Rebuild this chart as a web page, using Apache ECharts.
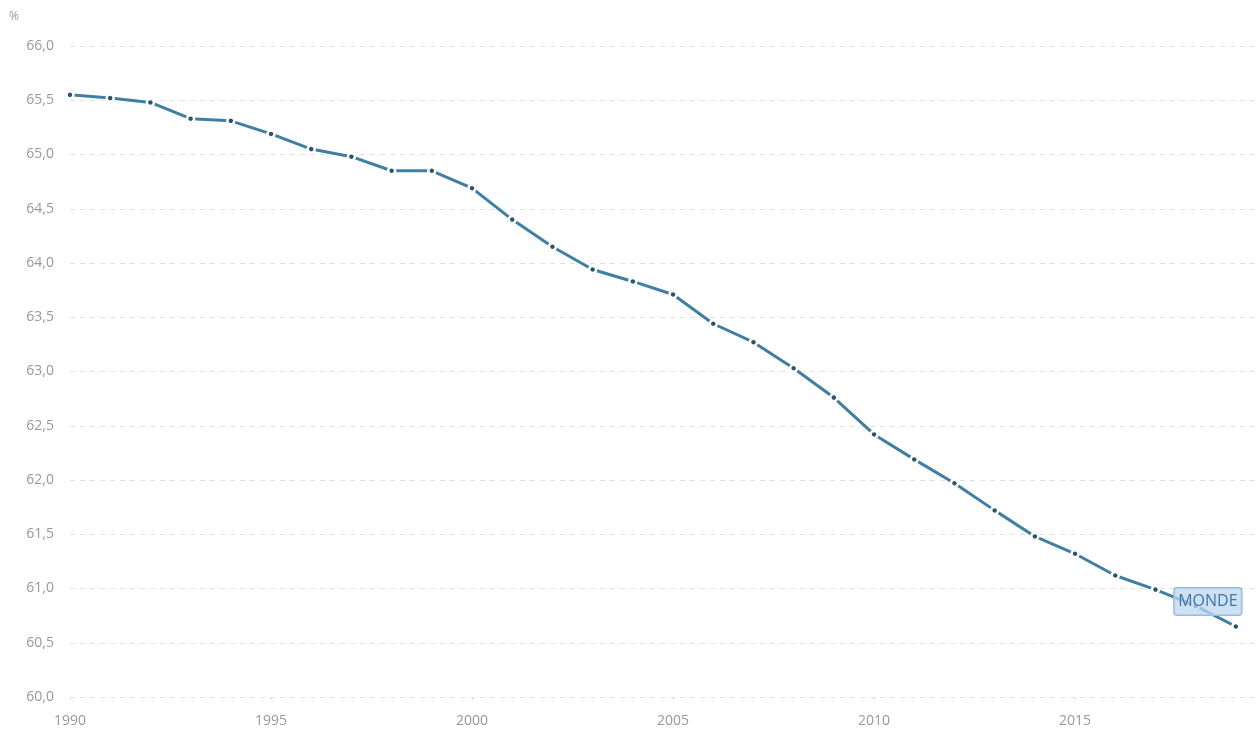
<!DOCTYPE html>
<html>
<head>
<meta charset="utf-8">
<script src="https://cdn.jsdelivr.net/npm/echarts@6/dist/echarts.min.js"></script>
<style>
html,body{margin:0;padding:0;background:#fff;}
#c{width:1260px;height:729px;}
</style>
</head>
<body>
<div id="c"></div>
<script>
var years = [1990,1991,1992,1993,1994,1995,1996,1997,1998,1999,2000,2001,2002,2003,2004,2005,2006,2007,2008,2009,2010,2011,2012,2013,2014,2015,2016,2017,2018,2019];
var values = [65.55,65.52,65.48,65.33,65.31,65.19,65.05,64.98,64.85,64.85,64.69,64.40,64.15,63.94,63.83,63.71,63.44,63.27,63.03,62.76,62.42,62.19,61.97,61.72,61.48,61.32,61.12,60.99,60.84,60.65];
var seriesName = 'MONDE';
var unitLabel = '%';

var data = years.map(function(y, i){
  var item = {value:[y, values[i]]};
  if (i === years.length - 1) {
    item.label = {
      show: true,
      formatter: seriesName,
      position: 'inside',
      offset: [-28, -25],
      color: '#3f77a8',
      fontSize: 16,
      fontFamily: 'Open Sans, sans-serif',
      backgroundColor: 'rgba(190,215,238,0.75)',
      borderColor: '#93b9dc',
      borderWidth: 1,
      borderRadius: 3,
      padding: [6, 4, 5, 4]
    };
  }
  return item;
});

var chart = echarts.init(document.getElementById('c'));
chart.setOption({
  animation: false,
  grid: {left: 70, right: 0, top: 46, bottom: 32},
  graphic: [{
    type: 'text', left: 9, top: 11,
    style: {text: unitLabel, fill: '#999', fontSize: 12, fontFamily: 'Open Sans, sans-serif'}
  }],
  xAxis: {
    type: 'value', min: 1990, max: 2019.6, interval: 5,
    axisLine: {show: false},
    axisTick: {show: true, length: 3, lineStyle: {color: '#ddd'}},
    splitLine: {show: false},
    axisLabel: {color: '#999', fontSize: 14, fontFamily: 'Open Sans, sans-serif', margin: 17, showMaxLabel: false,
      formatter: function(v){ return String(v); }}
  },
  yAxis: {
    type: 'value', min: 60, max: 66, interval: 0.5,
    axisLine: {show: false}, axisTick: {show: false},
    splitLine: {show: true, lineStyle: {color: '#e2e2e2', type: [5, 5], width: 1}},
    axisLabel: {color: '#999', fontSize: 14, fontFamily: 'Open Sans, sans-serif', margin: 16,
      formatter: function(v){ return v.toFixed(1).replace('.', ','); }}
  },
  series: [{
    type: 'line',
    name: seriesName,
    data: data,
    symbol: 'circle',
    symbolSize: 7,
    showAllSymbol: true,
    lineStyle: {color: '#3f7fa3', width: 3},
    itemStyle: {color: '#2c5468', borderColor: '#ffffff', borderWidth: 2.5},
    z: 3
  }]
});
</script>
</body>
</html>
